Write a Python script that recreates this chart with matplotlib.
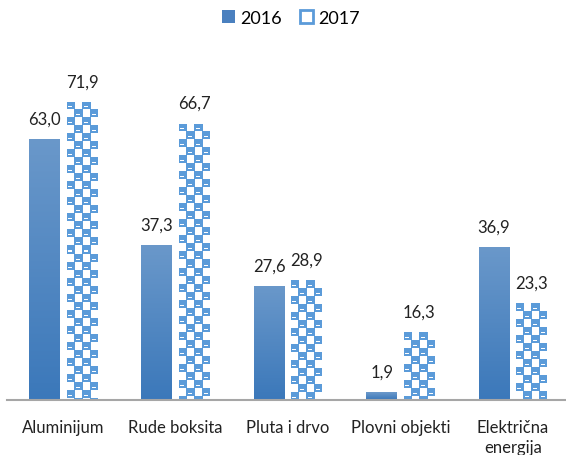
import numpy as np
import matplotlib
matplotlib.use('Agg')
import matplotlib.pyplot as plt
from matplotlib.patches import Patch

categories = ['Aluminijum', 'Rude boksita', 'Pluta i drvo', 'Plovni objekti', 'Električna\nenergija']
vals_2016 = [63.0, 37.3, 27.6, 1.9, 36.9]
vals_2017 = [71.9, 66.7, 28.9, 16.3, 23.3]
series_labels = ['2016', '2017']

plt.rcParams['font.family'] = ['Lato', 'DejaVu Sans']

W, H = 566, 456
fig = plt.figure(figsize=(W / 100, H / 100), dpi=100)
# axes in pixel terms: baseline at y=401, x from 7 to 569
ax = fig.add_axes([7 / W, 55 / H, 562 / W, 331.6 / H])
ax.set_xlim(-0.5, 4.5)
ax.set_ylim(0, 80)

x = np.arange(len(categories))
bw = 0.275
off = 0.167

blue_top = np.array([0x6a, 0x98, 0xca]) / 255
blue_bot = np.array([0x3b, 0x78, 0xba]) / 255
pat_blue = np.array([0x5b, 0x9b, 0xd9]) / 255


def gradient_img(hpx):
    t = np.linspace(0, 1, max(hpx, 2))[:, None]
    col = blue_top[None, :] * (1 - t) + blue_bot[None, :] * t
    img = np.repeat(col[:, None, :], 4, axis=1)
    return img


def pattern_img(wpx, hpx, cell=8):
    img = np.ones((hpx, wpx, 3))
    for r in range(hpx):
        for c in range(wpx):
            rr = r // cell
            lr = r % cell
            # blue squares a bit wider than the white gaps
            cc = (c + 1) // cell
            lc = (c + 1) % cell
            blue = (rr + cc) % 2 == 0 or ((rr + cc) % 2 == 1 and lc == 0)
            if blue:
                img[r, c] = pat_blue
                if lr == 5 and 2 <= lc <= 5:
                    img[r, c] = (1, 1, 1)
    return img


px_per_x = 562 / 5.0
px_per_y = 331.6 / 80

bars16 = ax.bar(x - off, vals_2016, bw, color='none', edgecolor='none', zorder=2)
bars17 = ax.bar(x + off, vals_2017, bw, color='none', edgecolor='none', zorder=2)

for b, v in zip(bars16, vals_2016):
    x0 = b.get_x()
    hpx = int(round(v * px_per_y))
    im = ax.imshow(gradient_img(hpx), extent=(x0, x0 + bw, 0, v), aspect='auto',
                   origin='upper', interpolation='bilinear', zorder=2)
    im.set_clip_path(b)

for b, v in zip(bars17, vals_2017):
    x0 = b.get_x()
    wpx = int(round(bw * px_per_x))
    hpx = int(round(v * px_per_y))
    # anchor pattern at the bar top
    im = ax.imshow(pattern_img(wpx, hpx), extent=(x0, x0 + bw, 0, v), aspect='auto',
                   origin='upper', interpolation='nearest', zorder=2)
    im.set_clip_path(b)

for bars, vals in [(bars16, vals_2016), (bars17, vals_2017)]:
    for b, v in zip(bars, vals):
        ax.text(b.get_x() + bw / 2, v + 3.0, f'{v:.1f}'.replace('.', ','),
                ha='center', va='bottom', fontsize=12, color='#222222')

ax.set_xticks(x)
ax.set_xticklabels(categories, fontsize=12, color='#222222', linespacing=1.25)
ax.tick_params(axis='x', length=0, pad=14)
ax.set_yticks([])
for s in ['top', 'right', 'left']:
    ax.spines[s].set_visible(False)
ax.spines['bottom'].set_color('#a6a6a6')
ax.spines['bottom'].set_linewidth(1.5)

handles = [Patch(facecolor='#4a80bf', edgecolor='none', label=series_labels[0]),
           Patch(facecolor='white', edgecolor='#5b9bd9', linewidth=2, label=series_labels[1])]
fig.legend(handles=handles, loc='center', bbox_to_anchor=(291 / W, 1 - 19 / H), ncol=2,
           frameon=False, fontsize=13, handlelength=0.7, handleheight=0.7,
           handletextpad=0.3, columnspacing=1.0)

fig.savefig('out.png', dpi=100)
